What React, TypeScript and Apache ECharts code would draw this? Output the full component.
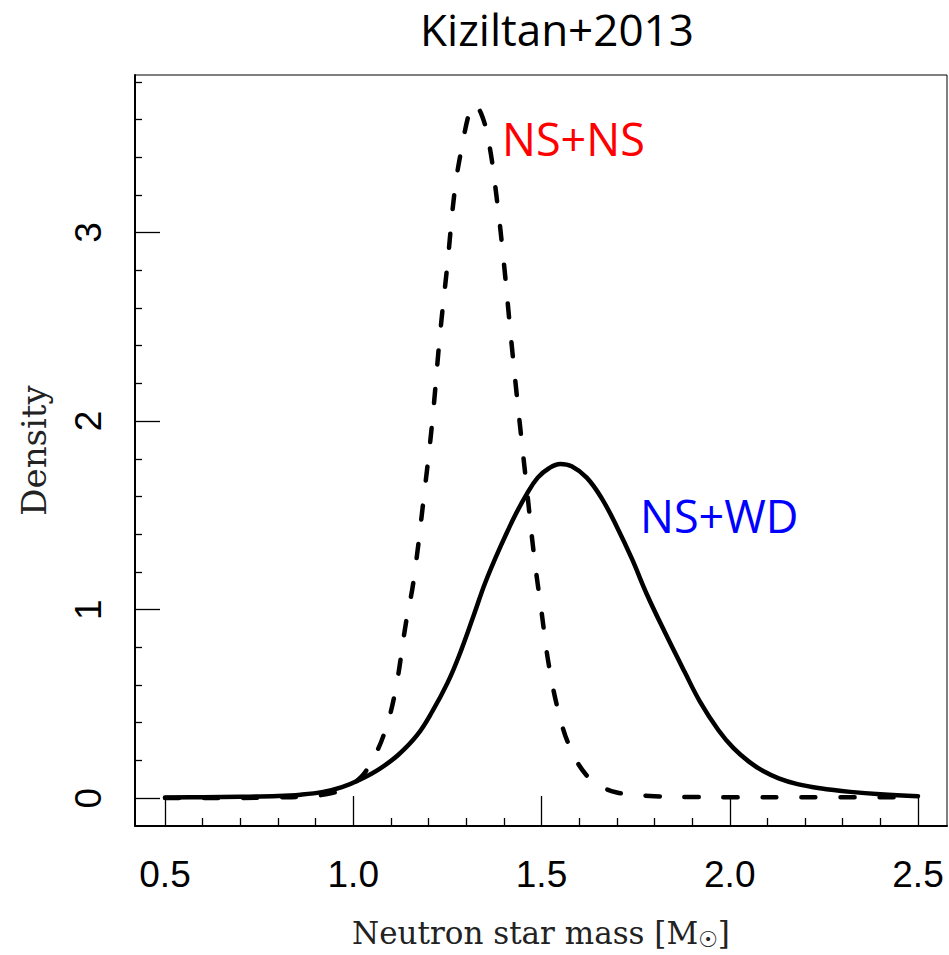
import React, { useEffect, useRef } from "react";
import * as echarts from "echarts";

// NS+WD (solid) density
const wdMass = [0.50, 0.60, 0.70, 0.80, 0.86, 0.92, 0.97, 1.02, 1.07, 1.12, 1.17, 1.21, 1.25, 1.28, 1.32, 1.35, 1.39, 1.43, 1.46, 1.49, 1.52, 1.55, 1.58, 1.62, 1.66, 1.70, 1.74, 1.78, 1.83, 1.88, 1.92, 1.97, 2.01, 2.05, 2.09, 2.13, 2.18, 2.24, 2.32, 2.40, 2.50];
const wdDensity = [0.003, 0.005, 0.007, 0.011, 0.018, 0.033, 0.058, 0.10, 0.155, 0.23, 0.335, 0.46, 0.61, 0.75, 0.97, 1.14, 1.33, 1.50, 1.61, 1.70, 1.75, 1.772, 1.76, 1.70, 1.59, 1.44, 1.27, 1.08, 0.87, 0.67, 0.515, 0.36, 0.265, 0.195, 0.142, 0.105, 0.074, 0.052, 0.033, 0.02, 0.01];

// NS+NS (dashed) density
const nsMass = [0.50, 0.60, 0.70, 0.80, 0.88, 0.94, 0.98, 1.02, 1.05, 1.08, 1.11, 1.14, 1.16, 1.19, 1.21, 1.23, 1.25, 1.27, 1.29, 1.31, 1.32, 1.34, 1.36, 1.38, 1.40, 1.42, 1.44, 1.46, 1.48, 1.50, 1.52, 1.55, 1.58, 1.62, 1.66, 1.70, 1.75, 1.80, 1.90, 2.00, 2.20, 2.50];
const nsDensity = [0.0, 0.0, 0.001, 0.004, 0.01, 0.025, 0.055, 0.11, 0.20, 0.33, 0.55, 0.93, 1.15, 1.64, 2.0, 2.45, 2.83, 3.23, 3.47, 3.65, 3.68, 3.63, 3.48, 3.20, 2.84, 2.42, 2.03, 1.66, 1.29, 0.99, 0.70, 0.42, 0.25, 0.12, 0.06, 0.03, 0.018, 0.01, 0.006, 0.005, 0.004, 0.004];

const xMajor = [0.5, 1.0, 1.5, 2.0, 2.5];
const xTickLabels = ["0.5", "1.0", "1.5", "2.0", "2.5"];
const xMinor = [0.6, 0.7, 0.8, 0.9, 1.1, 1.2, 1.3, 1.4, 1.6, 1.7, 1.8, 1.9, 2.1, 2.2, 2.3, 2.4];
const yMajor = [0, 1, 2, 3];
const yTickLabels = ["0", "1", "2", "3"];
const yMinor = [0.2, 0.4, 0.6, 0.8, 1.2, 1.4, 1.6, 1.8, 2.2, 2.4, 2.6, 2.8, 3.2, 3.4, 3.6, 3.8];

const X_MIN = 0.4203;
const X_MAX = 2.577;
const Y_MIN = -0.148;
const Y_MAX = 3.836;

const pair = (xs: number[], ys: number[]) => xs.map((x, i) => [x, ys[i]]);

export default function App() {
  const ref = useRef<HTMLDivElement>(null);
  useEffect(() => {
    if (!ref.current) return;
    const chart = echarts.init(ref.current, null, { renderer: "svg" });
    const labelFont = { fontFamily: "Liberation Sans", fontSize: 37, color: "#000" };
    const axisLine = { show: true, onZero: false, lineStyle: { color: "#000", width: 2 } };
    const hiddenLine = { show: false, onZero: false };
    chart.setOption({
      animation: false,
      backgroundColor: "#fff",
      title: {
        text: "Kiziltan+2013",
        left: 552,
        top: 2,
        textAlign: "center",
        textStyle: { fontFamily: "Open Sans", fontSize: 44, fontWeight: "normal", color: "#000" },
      },
      grid: {
        left: 135,
        top: 75,
        width: 812,
        height: 753,
        show: true,
        borderColor: "#000",
        borderWidth: 1,
        backgroundColor: "transparent",
      },
      xAxis: [
        {
          type: "value",
          min: X_MIN,
          max: X_MAX,
          position: "bottom",
          axisLine,
          splitLine: { show: false },
          axisTick: { inside: true, length: 30, customValues: xMajor, lineStyle: { color: "#000", width: 1.3 } },
          axisLabel: {
            ...labelFont,
            margin: 30,
            customValues: xMajor,
            formatter: (v: number) => xTickLabels[xMajor.findIndex((m) => Math.abs(m - v) < 1e-6)] ?? "",
          },
          name: "Neutron star mass [M{s|☉}]",
          nameLocation: "middle",
          nameGap: 90,
          nameTextStyle: {
            fontFamily: "DejaVu Serif",
            fontSize: 31,
            color: "#222",
            rich: { s: { fontFamily: "DejaVu Sans", fontSize: 22, color: "#222", padding: [12, 0, 0, 0] } },
          },
        },
        {
          type: "value",
          min: X_MIN,
          max: X_MAX,
          position: "bottom",
          axisLine: hiddenLine,
          splitLine: { show: false },
          axisTick: { inside: true, length: 8, customValues: xMinor, lineStyle: { color: "#000", width: 1.3 } },
          axisLabel: { show: false },
        },
      ],
      yAxis: [
        {
          type: "value",
          min: Y_MIN,
          max: Y_MAX,
          position: "left",
          axisLine,
          splitLine: { show: false },
          axisTick: { inside: true, length: 25, customValues: yMajor, lineStyle: { color: "#000", width: 1.3 } },
          axisLabel: {
            ...labelFont,
            rotate: 90,
            margin: 28,
            customValues: yMajor,
            formatter: (v: number) => yTickLabels[yMajor.findIndex((m) => Math.abs(m - v) < 1e-6)] ?? "",
          },
          name: "Density",
          nameLocation: "middle",
          nameGap: 84,
          nameTextStyle: { fontFamily: "DejaVu Serif", fontSize: 34, color: "#222" },
        },
        {
          type: "value",
          min: Y_MIN,
          max: Y_MAX,
          position: "left",
          axisLine: hiddenLine,
          splitLine: { show: false },
          axisTick: { inside: true, length: 7, customValues: yMinor, lineStyle: { color: "#000", width: 1.3 } },
          axisLabel: { show: false },
        },
      ],
      series: [
        {
          name: "NS+WD",
          type: "line",
          xAxisIndex: 0,
          yAxisIndex: 0,
          data: pair(wdMass, wdDensity),
          showSymbol: false,
          symbol: "none",
          smooth: 0.4,
          lineStyle: { color: "#000", width: 4.5, cap: "round", join: "round" },
        },
        {
          name: "NS+NS",
          type: "line",
          xAxisIndex: 0,
          yAxisIndex: 0,
          data: pair(nsMass, nsDensity),
          showSymbol: false,
          symbol: "none",
          smooth: 0.4,
          lineStyle: { color: "#000", width: 4.5, type: [14, 25], cap: "round", join: "round" },
        },
      ],
      graphic: [
        {
          type: "text",
          x: 502,
          y: 138,
          style: {
            text: "NS+NS",
            fill: "#ff0000",
            font: '45px "Open Sans"',
            textAlign: "left",
            textVerticalAlign: "middle",
          },
        },
        {
          type: "text",
          x: 640,
          y: 515,
          style: {
            text: "NS+WD",
            fill: "#0000ff",
            font: '45px "Open Sans"',
            textAlign: "left",
            textVerticalAlign: "middle",
          },
        },
      ],
    });
    return () => chart.dispose();
  }, []);
  return <div ref={ref} style={{ width: 949, height: 955, position: "absolute", left: 0, top: 0 }} />;
}
